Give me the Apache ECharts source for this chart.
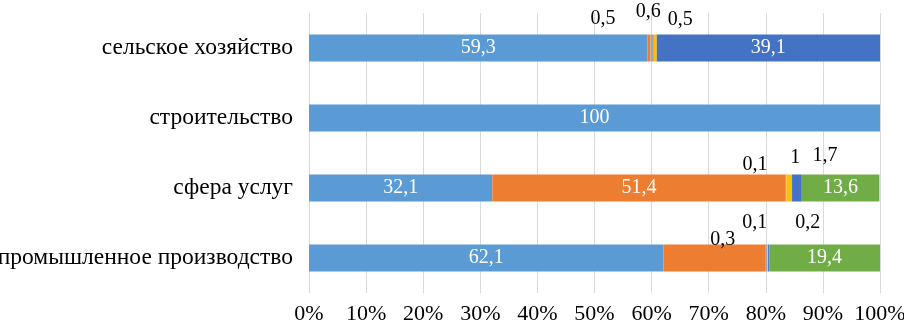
<!DOCTYPE html>
<html>
<head>
<meta charset="utf-8">
<script src="https://cdn.jsdelivr.net/npm/echarts@6/dist/echarts.min.js"></script>
<style>
  html, body { margin: 0; padding: 0; background: #fff; }
  #chart { width: 904px; height: 325px; }
</style>
</head>
<body>
<div id="chart"></div>
<script>
// категории сверху вниз
var categories = ['сельское хозяйство', 'строительство', 'сфера услуг', 'промышленное производство'];
var xTicks = [0, 10, 20, 30, 40, 50, 60, 70, 80, 90, 100];

var s1 = [59.3, 100, 32.1, 62.1];   // голубой
var s2 = [0.5, 0, 51.4, 17.9];      // оранжевый
var s3 = [0.6, 0, 0.1, 0.3];        // серый
var s4 = [0.5, 0, 1, 0.1];          // жёлтый
var s5 = [39.1, 0, 1.7, 0.2];       // синий
var s6 = [0, 0, 13.6, 19.4];        // зелёный

var colors = ['#5B9BD5', '#ED7D31', '#A5A5A5', '#FFC000', '#4472C4', '#70AD47'];
var font = '"Liberation Serif", "Times New Roman", serif';

// подписи мелких значений над полосой: [серия][категория] -> сдвиг
var outside = {
  1: { 0: [-46, -1] },
  2: { 0: [-4, -8], 2: [-31, 5], 3: [-44, 10] },
  3: { 0: [25, 0], 2: [6, -2], 3: [-13, -7] },
  4: { 2: [28, -4], 3: [39, -7] }
};
// скрытые подписи
var hidden = { 1: { 3: true } };

function fmt(v) {
  return String(v).replace('.', ',');
}

function buildData(values, si) {
  return values.map(function (v, ci) {
    var item = { value: v };
    var lbl = {
      show: true,
      fontFamily: font,
      fontSize: 20,
      formatter: function (p) { return fmt(p.value); }
    };
    if (!v || (hidden[si] && hidden[si][ci])) {
      lbl.show = false;
    } else if (outside[si] && outside[si][ci]) {
      lbl.position = 'top';
      lbl.distance = 5;
      lbl.offset = outside[si][ci];
      lbl.color = '#000';
    } else {
      lbl.position = 'inside';
      lbl.color = '#fff';
    }
    item.label = lbl;
    return item;
  });
}

var all = [s1, s2, s3, s4, s5, s6];
var series = all.map(function (vals, si) {
  return {
    type: 'bar',
    stack: 'total',
    barWidth: 27,
    itemStyle: { color: colors[si] },
    data: buildData(vals, si)
  };
});

var myChart = echarts.init(document.getElementById('chart'));
myChart.setOption({
  animation: false,
  grid: { left: 309, right: 24, top: 13, bottom: 32, outerBoundsMode: 'none' },
  xAxis: {
    type: 'value',
    min: 0,
    max: 100,
    interval: 10,
    axisLine: { show: false },
    axisTick: { show: false },
    splitLine: { lineStyle: { color: '#D9D9D9', width: 1 } },
    axisLabel: {
      color: '#000',
      fontFamily: font,
      fontSize: 22,
      margin: 10,
      formatter: function (v) { return xTicks.indexOf(v) > -1 ? v + '%' : ''; }
    }
  },
  yAxis: {
    type: 'category',
    inverse: true,
    data: categories,
    axisLine: { show: false },
    axisTick: { show: false },
    axisLabel: {
      color: '#000',
      fontFamily: font,
      fontSize: 23.5,
      margin: 16
    }
  },
  series: series
});
</script>
</body>
</html>
